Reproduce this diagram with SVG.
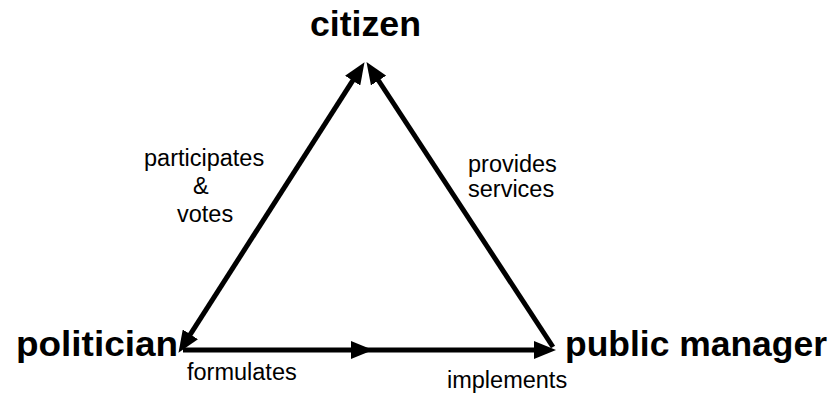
<svg xmlns="http://www.w3.org/2000/svg" width="839" height="393" viewBox="0 0 839 393">
  <style>
    .title { font-family: "Liberation Sans", Arial, sans-serif; font-weight: bold; font-size: 35px; fill: #000; }
    .label { font-family: "Liberation Sans", Arial, sans-serif; font-size: 23.5px; fill: #000; }
    .edge { stroke: #000; stroke-width: 5; fill: none; }
  </style>
  <defs>
    <marker id="arrow" markerUnits="userSpaceOnUse" markerWidth="22" markerHeight="18" refX="9" refY="9" orient="auto-start-reverse">
      <path d="M0,0 L22,9 L0,18 z" fill="#000"/>
    </marker>
  </defs>
  <rect width="839" height="393" fill="#fff"/>

  <g id="connectors">
    <!-- politician <-> citizen -->
    <line class="edge" x1="185.5" y1="341.9" x2="357.5" y2="73.1" marker-start="url(#arrow)" marker-end="url(#arrow)"/>
    <!-- public manager -> citizen -->
    <line class="edge" x1="553" y1="347" x2="373.6" y2="73" marker-end="url(#arrow)"/>
    <!-- politician -> public manager, with a midway arrowhead -->
    <line class="edge" x1="183" y1="350" x2="360" y2="350" marker-end="url(#arrow)"/>
    <line class="edge" x1="358" y1="350" x2="543" y2="350" marker-end="url(#arrow)"/>
  </g>

  <g id="node-citizen">
    <text class="title" x="310" y="36" textLength="111" lengthAdjust="spacingAndGlyphs">citizen</text>
  </g>
  <g id="node-politician">
    <text class="title" x="16" y="356" textLength="162" lengthAdjust="spacingAndGlyphs">politician</text>
  </g>
  <g id="node-public-manager">
    <text class="title" x="565" y="356" textLength="262" lengthAdjust="spacingAndGlyphs">public manager</text>
  </g>

  <g id="edge-labels">
    <text class="label" x="144" y="166">participates</text>
    <text class="label" x="193" y="194">&amp;</text>
    <text class="label" x="177" y="222">votes</text>
    <text class="label" x="468" y="172">provides</text>
    <text class="label" x="468" y="197">services</text>
    <text class="label" x="187" y="380">formulates</text>
    <text class="label" x="447" y="388">implements</text>
  </g>
</svg>
